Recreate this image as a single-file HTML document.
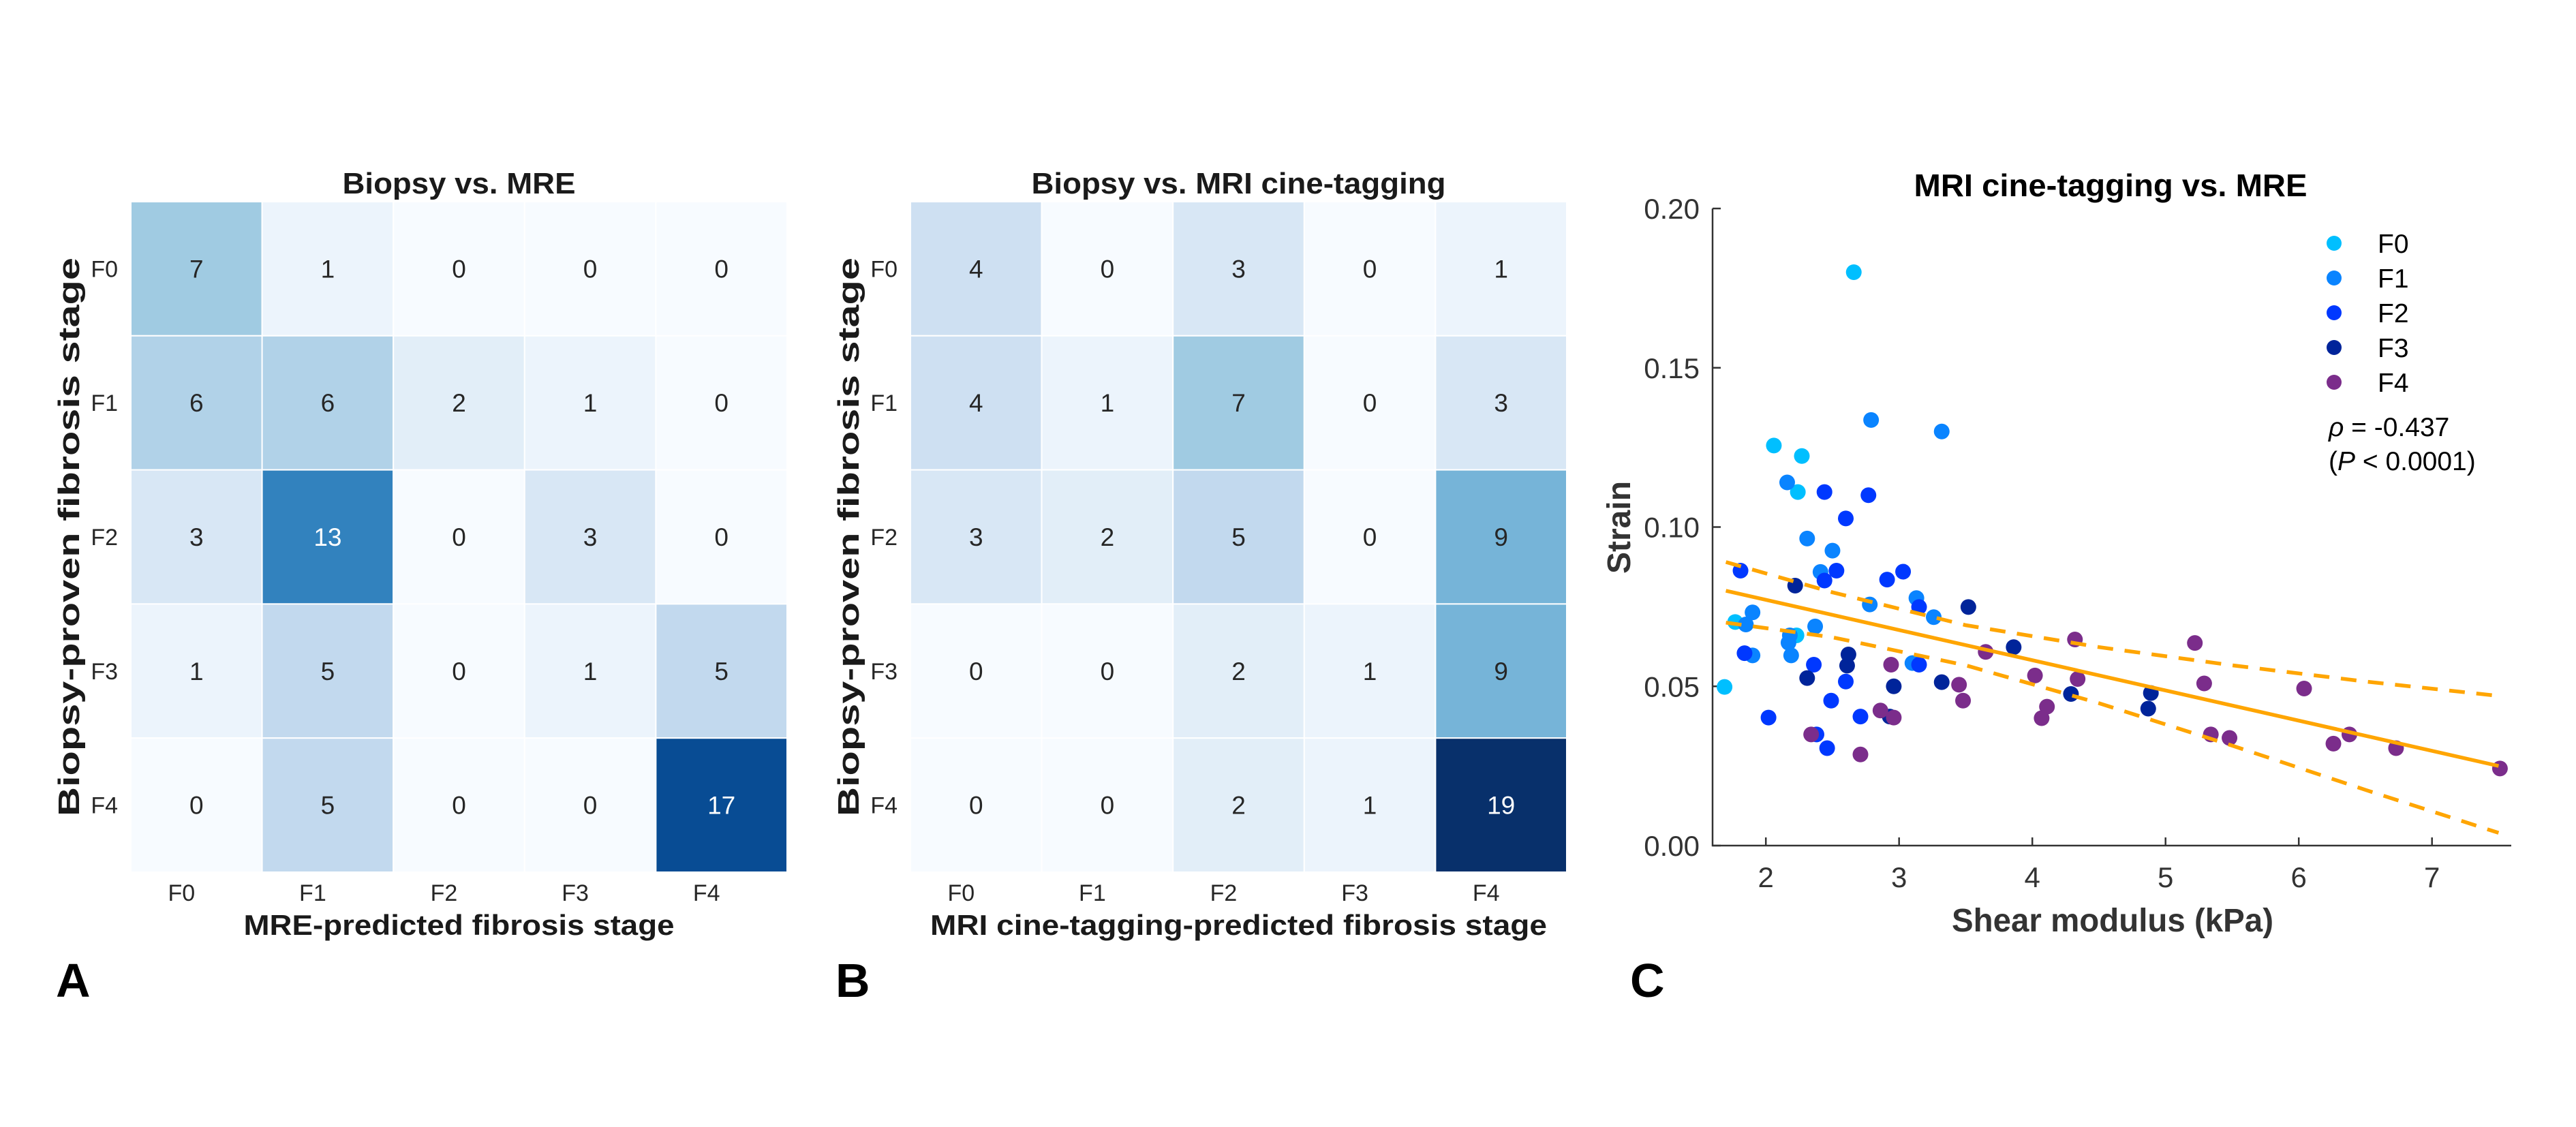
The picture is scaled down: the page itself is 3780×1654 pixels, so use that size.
<!DOCTYPE html>
<html><head><meta charset="utf-8"><title>Fibrosis staging figure</title>
<style>
html,body{margin:0;padding:0;background:#fff;}
svg{display:block;}
text{font-family:"Liberation Sans",Arial,sans-serif;}
</style></head>
<body>
<svg id="fig" xmlns="http://www.w3.org/2000/svg" width="3780" height="1654" viewBox="0 0 3780 1654">
<rect x="0" y="0" width="3780" height="1654" fill="#fff"/>
</svg>
<script>
// ---------- Heatmap data ----------
const stageLabels = ["F0","F1","F2","F3","F4"];
const matrixA = [[7,1,0,0,0],[6,6,2,1,0],[3,13,0,3,0],[1,5,0,1,5],[0,5,0,0,17]];
const matrixB = [[4,0,3,0,1],[4,1,7,0,3],[3,2,5,0,9],[0,0,2,1,9],[0,0,2,1,19]];
const colorMax = [19];

// ---------- Scatter data (shear modulus kPa, strain) ----------
const f0X = [1.69,1.77,2.06,2.27,2.24,2.66,2.23];
const f0Y = [0.0498,0.0702,0.1256,0.1223,0.111,0.180,0.066];
const f1X = [2.16,2.79,3.32,2.31,2.50,2.41,2.78,3.13,3.26,1.90,1.85,2.37,2.17,2.19,1.90,3.10,2.18];
const f1Y = [0.114,0.1336,0.130,0.0964,0.0926,0.0859,0.0757,0.0777,0.0717,0.0732,0.0694,0.0688,0.0637,0.0597,0.0597,0.0573,0.066];
const f2X = [1.81,2.44,2.60,2.77,2.53,2.44,2.91,3.03,3.15,1.84,2.36,2.60,3.15,2.49,2.02,2.71,2.38,2.46];
const f2Y = [0.0863,0.111,0.1027,0.110,0.0863,0.0832,0.0835,0.0860,0.0749,0.0604,0.0568,0.0515,0.0568,0.0455,0.0402,0.0405,0.0349,0.0306];
const f3X = [2.22,3.52,3.86,2.62,2.61,2.31,2.96,3.32,4.29,4.89,4.87,2.93];
const f3Y = [0.0816,0.0749,0.0623,0.060,0.0565,0.0526,0.050,0.0513,0.0476,0.0479,0.043,0.0405];
const f4X = [4.32,5.22,3.65,2.94,4.02,5.29,3.45,4.34,6.04,3.48,4.11,4.07,2.86,2.96,2.34,5.34,5.48,6.38,6.26,6.73,2.71,7.51];
const f4Y = [0.0647,0.0636,0.0608,0.0568,0.0534,0.0509,0.0505,0.0523,0.0493,0.0455,0.0436,0.040,0.0424,0.0402,0.0349,0.0349,0.0338,0.0349,0.032,0.0306,0.0286,0.0242];
const fitX = [1.7,7.5];
const fitY = [0.080,0.025];
const bandX = [1.7,2.5,3.5,4.5,5.5,6.5,7.5];
const upperY = [0.089,0.0795,0.0692,0.0623,0.0566,0.0515,0.047];
const lowerY = [0.070,0.0654,0.0566,0.0447,0.0314,0.0175,0.004];
const xTicks = [2,3,4,5,6,7];
const yTicks = [0,0.05,0.10,0.15,0.20];
const yTickLabels = ["0.00","0.05","0.10","0.15","0.20"];

const NS = "http://www.w3.org/2000/svg";
const svg = document.getElementById('fig');
function mk(tag, attrs, parent, txt){
  const e = document.createElementNS(NS, tag);
  for (const k in attrs) e.setAttribute(k, attrs[k]);
  if (txt !== undefined) e.textContent = txt;
  (parent||svg).appendChild(e);
  return e;
}
const blues = ["#f7fbff","#deebf7","#c6dbef","#9ecae1","#6baed6","#4292c6","#2171b5","#08519c","#08306b"];
function hx(c){return [parseInt(c.slice(1,3),16),parseInt(c.slice(3,5),16),parseInt(c.slice(5,7),16)];}
function bluesAt(t){
  t=Math.max(0,Math.min(1,t)); const p=t*8; const i=Math.min(7,Math.floor(p)); const f=p-i;
  const a=hx(blues[i]), b=hx(blues[i+1]);
  return "rgb("+a.map((v,k)=>Math.round(v+(b[k]-v)*f)).join(",")+")";
}

function heatmap(prefix, mat, left, title, xlabel, titleLen, xlabelLen, letter){
  const g = mk('g',{});
  
  
  const top=296, cw=192.6, ch=196.8;
  for(let r=0;r<5;r++){
    for(let c=0;c<5;c++){
      const v=mat[r][c];
      const rect=mk('rect',{x:left+c*cw,y:top+r*ch,width:cw,height:ch,fill:bluesAt(v/colorMax[0]),stroke:'#fff','stroke-width':2},g);
      
      
      const t=mk('text',{x:left+c*cw+cw/2,y:top+r*ch+ch/2+13,'text-anchor':'middle','font-size':37,fill:(v/colorMax[0]>0.6?'#ffffff':'#262626')},g,String(v));
      
      
    }
    const rl=mk('text',{x:left-19,y:top+r*ch+ch/2+12,'text-anchor':'end','font-size':34,fill:'#262626'},g,stageLabels[r]);
    
    
  }
  for(let c=0;c<5;c++){
    const cl=mk('text',{x:left+c*cw+cw/2-22,y:1322,'text-anchor':'middle','font-size':34,fill:'#262626'},g,stageLabels[c]);
    
    
  }
  const cx=left+2.5*cw;
  const tt=mk('text',{x:cx,y:284,'text-anchor':'middle','font-size':44,'font-weight':'bold',fill:'#1a1a1a',textLength:titleLen,lengthAdjust:'spacingAndGlyphs'},g,title);
  
  
  const xl=mk('text',{x:cx,y:1372,'text-anchor':'middle','font-size':42,'font-weight':'bold',fill:'#1a1a1a',textLength:xlabelLen,lengthAdjust:'spacingAndGlyphs'},g,xlabel);
  
  
  const yl=mk('text',{x:0,y:0,'text-anchor':'middle','font-size':44,'font-weight':'bold',fill:'#1a1a1a',transform:'translate('+(left-76)+','+(top+2.5*ch)+') rotate(-90)',textLength:820,lengthAdjust:'spacingAndGlyphs'},g,'Biopsy-proven fibrosis stage');
  
  
  const lt=mk('text',{x:left-110,y:1463,'font-size':70,'font-weight':'bold',fill:'#000'},g,letter);
  
  
}
heatmap('panel-a', matrixA, 192, 'Biopsy vs. MRE', 'MRE-predicted fibrosis stage', 342, 632, 'A');
heatmap('panel-b', matrixB, 1336, 'Biopsy vs. MRI cine-tagging', 'MRI cine-tagging-predicted fibrosis stage', 608, 905, 'B');

// ---------- Scatter panel ----------
const axL=2513, axR=3685, axT=306, axB=1241;
const x0=1.6, x1=1.6+(axR-axL)/195.5;
function sx(v){return axL+(v-x0)*(axR-axL)/(x1-x0);}
function sy(v){return axB-(v-0)*(axB-axT)/0.20;}
const gC=mk('g',{});


const ax=mk('path',{d:'M'+axL+' '+axT+' L'+axL+' '+axB+' L'+axR+' '+axB,fill:'none',stroke:'#333','stroke-width':2.5},gC);


xTicks.forEach(v=>{
  const l=mk('line',{x1:sx(v),x2:sx(v),y1:axB,y2:axB-12,stroke:'#333','stroke-width':2.5},gC);
  
  
  const t=mk('text',{x:sx(v),y:1302,'text-anchor':'middle','font-size':42,fill:'#333'},gC,String(v));
  
  
});
yTicks.forEach((v,i)=>{
  const l=mk('line',{x1:axL,x2:axL+12,y1:sy(v),y2:sy(v),stroke:'#333','stroke-width':2.5},gC);
  
  
  const t=mk('text',{x:2494,y:sy(v)+15,'text-anchor':'end','font-size':42,fill:'#333'},gC,yTickLabels[i]);
  
  
});
const ct=mk('text',{x:3097,y:288,'text-anchor':'middle','font-size':46,'font-weight':'bold',fill:'#000',textLength:577,lengthAdjust:'spacingAndGlyphs'},gC,'MRI cine-tagging vs. MRE');


const cxl=mk('text',{x:3100,y:1367,'text-anchor':'middle','font-size':48,'font-weight':'bold',fill:'#333',textLength:472,lengthAdjust:'spacingAndGlyphs'},gC,'Shear modulus (kPa)');


const cyl=mk('text',{x:0,y:0,'text-anchor':'middle','font-size':48,'font-weight':'bold',fill:'#333',transform:'translate(2392,774) rotate(-90)'},gC,'Strain');


const lc=mk('text',{x:2392,y:1463,'font-size':70,'font-weight':'bold',fill:'#000'},gC,'C');



const series=[[f0X,f0Y,'#00bfff','F0'],[f1X,f1Y,'#0a84ff','F1'],[f2X,f2Y,'#0038ff','F2'],[f3X,f3Y,'#00249a','F3'],[f4X,f4Y,'#7b2d8b','F4']];
series.forEach(s=>{
  const sg=mk('g',{fill:s[2]},gC);
  
  
  s[0].forEach((xv,i)=>{
    const c=mk('circle',{cx:sx(xv),cy:sy(s[1][i]),r:11.5},sg);
    
    
  });
});
const fl=mk('line',{x1:sx(fitX[0]),y1:sy(fitY[0]),x2:sx(fitX[1]),y2:sy(fitY[1]),stroke:'#ffa500','stroke-width':5.5},gC);


function band(arr,name){
  const d=bandX.map((xv,i)=>(i?'L':'M')+sx(xv).toFixed(1)+' '+sy(arr[i]).toFixed(1)).join(' ');
  const p=mk('path',{d:d,fill:'none',stroke:'#ffa500','stroke-width':5.5,'stroke-dasharray':'23 17'},gC);
  
  
}
band(upperY,'upper-confidence-band');
band(lowerY,'lower-confidence-band');

// legend
const lg=mk('g',{},gC);


const legY=[357,408,459,510,561];
series.forEach((s,i)=>{
  const c=mk('circle',{cx:3425,cy:legY[i],r:11,fill:s[2]},lg);
  
  
  const t=mk('text',{x:3489,y:legY[i]+14,'font-size':39,fill:'#000'},lg,s[3]);
  
  
});
const rho=mk('text',{x:3417,y:640,'font-size':39,fill:'#000'},lg);


mk('tspan',{'font-style':'italic'},rho,'ρ');
mk('tspan',{},rho,' = -0.437');
const pv=mk('text',{x:3417,y:690,'font-size':39,fill:'#000'},lg);


mk('tspan',{},pv,'(');
mk('tspan',{'font-style':'italic'},pv,'P');
mk('tspan',{},pv,' < 0.0001)');
</script>
</body></html>
